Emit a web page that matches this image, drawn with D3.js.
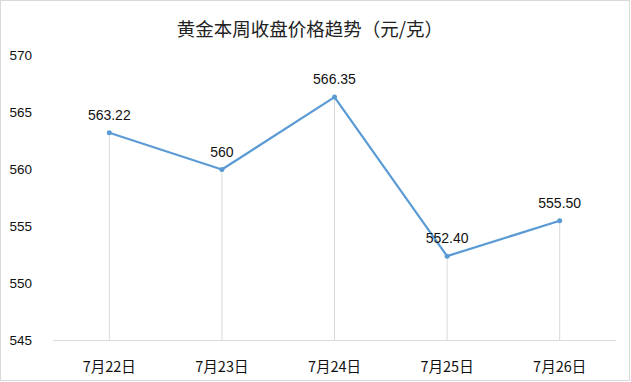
<!DOCTYPE html>
<html><head><meta charset="utf-8">
<script src="https://cdn.jsdelivr.net/npm/d3@7"></script>
<style>body{margin:0;background:#fff}svg{display:block}</style>
</head><body>
<script>
const categories = ["7月22日","7月23日","7月24日","7月25日","7月26日"];
const values = [563.22, 560, 566.35, 552.40, 555.50];
const valueLabels = ["563.22","560","566.35","552.40","555.50"];
const yTicks = [545, 550, 555, 560, 565, 570];
const title = "黄金本周收盘价格趋势（元/克）";

const W = 631, H = 382;
const svg = d3.select("body").append("svg").attr("width", W).attr("height", H);
svg.append("rect").attr("x",0.5).attr("y",0.5).attr("width",W-2).attr("height",H-2)
  .attr("fill","#fff").attr("stroke","#d9d9d9");

const x = d3.scaleBand().domain(categories).range([53, 616]);
const y = d3.scaleLinear().domain([545, 570]).range([340.5, 55.5]);
const font = "'Liberation Sans', Arial, sans-serif";

svg.append("text").attr("x", 310).attr("y", 35.5).attr("text-anchor","middle")
  .attr("font-family","'Noto Sans CJK SC', sans-serif").attr("font-size",18.5).attr("fill","#222")
  .text(title);

// y labels
svg.append("g").selectAll("text").data(yTicks).join("text")
  .attr("x", 32).attr("y", d => y(d)).attr("dy","0.35em").attr("text-anchor","end")
  .attr("font-family", font).attr("font-size", 13.5).attr("fill","#111").text(d => d);

// drop lines
svg.append("g").selectAll("line").data(values).join("line")
  .attr("x1",(d,i)=>x(categories[i])+x.bandwidth()/2).attr("x2",(d,i)=>x(categories[i])+x.bandwidth()/2)
  .attr("y1", d => y(d)).attr("y2", y(545))
  .attr("stroke","#d9d9d9").attr("stroke-width",1);

// x axis line
svg.append("line").attr("x1",53).attr("x2",616).attr("y1",y(545)).attr("y2",y(545))
  .attr("stroke","#d9d9d9").attr("stroke-width",1);

// x labels
svg.append("g").selectAll("text").data(categories).join("text")
  .attr("x", d => x(d)+x.bandwidth()/2).attr("y", 367).attr("dy","0.35em").attr("text-anchor","middle")
  .attr("font-family","'Noto Sans CJK SC', sans-serif").attr("font-size",14.5).attr("fill","#111").text(d => d);

// line
const line = d3.line().x((d,i)=>x(categories[i])+x.bandwidth()/2).y(d=>y(d));
svg.append("path").datum(values).attr("d", line).attr("fill","none")
  .attr("stroke","#5b9bd5").attr("stroke-width",2.2).attr("stroke-linejoin","round");

svg.append("g").selectAll("circle").data(values).join("circle")
  .attr("cx",(d,i)=>x(categories[i])+x.bandwidth()/2).attr("cy",d=>y(d)).attr("r",2.5)
  .attr("fill","#5b9bd5");

// data labels
svg.append("g").selectAll("text").data(values).join("text")
  .attr("x",(d,i)=>x(categories[i])+x.bandwidth()/2).attr("y",d=>y(d)-13)
  .attr("text-anchor","middle").attr("font-family", font).attr("font-size",14).attr("fill","#111")
  .text((d,i)=>valueLabels[i]);
</script>
</body></html>
